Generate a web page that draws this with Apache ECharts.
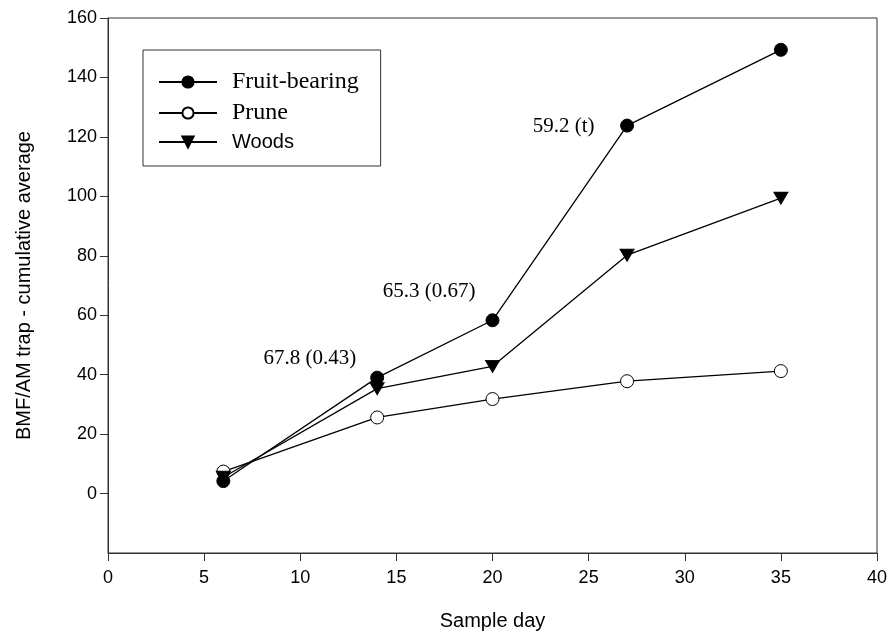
<!DOCTYPE html>
<html>
<head>
<meta charset="utf-8">
<script src="https://cdn.jsdelivr.net/npm/echarts@6/dist/echarts.min.js"></script>
<style>
  html, body { margin: 0; padding: 0; background: #fff; }
  #chart { width: 891px; height: 643px; }
</style>
</head>
<body>
<div id="chart"></div>
<script>
// sample days
const days = [6, 14, 20, 27, 35]
// cumulative averages per site
const fruitBearing = [4.2, 39, 58.3, 123.8, 149.3]
const prune = [7.4, 25.6, 31.8, 37.8, 41.2]
const woods = [5.5, 35.3, 42.8, 80.2, 99.4]
// annotations (x, y in data units)
const noteX = [10.5, 16.7, 23.7]
const noteY = [45.4, 67.9, 123.4]
const noteText = ['67.8 (0.43)', '65.3 (0.67)', '59.2 (t)']
const yTicks = [0, 20, 40, 60, 80, 100, 120, 140, 160]

function pairs(ys) {
  return days.map((d, i) => [d, ys[i]])
}

let chart = echarts.init(document.getElementById('chart'))
let option = {
  animation: false,
  grid: {
    left: 108,
    right: 14,
    top: 18,
    bottom: 90,
    show: true,
    borderColor: '#333',
    borderWidth: 1,
  },
  legend: {
    orient: 'vertical',
    left: 143,
    top: 50,
    padding: [20, 22, 14, 15],
    itemGap: 7,
    itemWidth: 58,
    itemHeight: 14,
    borderColor: '#333',
    borderWidth: 1,
    backgroundColor: '#fff',
    data: [
      { name: 'Fruit-bearing', textStyle: { fontFamily: 'Liberation Serif', fontSize: 24 } },
      { name: 'Prune', textStyle: { fontFamily: 'Liberation Serif', fontSize: 24 } },
      { name: 'Woods', textStyle: { fontFamily: 'Liberation Sans', fontSize: 20 } },
    ],
    textStyle: { color: '#000', padding: [0, 0, 0, 10] },
  },
  xAxis: {
    type: 'value',
    min: 0,
    max: 40,
    interval: 5,
    name: 'Sample day',
    nameLocation: 'middle',
    nameGap: 58,
    nameTextStyle: { fontFamily: 'Liberation Sans', fontSize: 20, color: '#000' },
    axisLine: { onZero: false, lineStyle: { color: '#333' } },
    axisTick: { show: true, inside: false, length: 8, lineStyle: { color: '#333' } },
    axisLabel: { fontFamily: 'Liberation Sans', fontSize: 18, color: '#000', margin: 16 },
    splitLine: { show: false },
  },
  yAxis: {
    type: 'value',
    min: -20,
    max: 160,
    interval: 20,
    name: 'BMF/AM trap - cumulative average',
    nameLocation: 'middle',
    nameGap: 74,
    nameTextStyle: { fontFamily: 'Liberation Sans', fontSize: 20, color: '#000' },
    axisLine: { show: true, onZero: false, lineStyle: { color: '#333' } },
    axisTick: { show: true, inside: false, length: 8, customValues: yTicks, lineStyle: { color: '#333' } },
    axisLabel: {
      fontFamily: 'Liberation Sans', fontSize: 18, color: '#000', margin: 11,
      customValues: yTicks,
    },
    splitLine: { show: false },
  },
  series: [
    {
      name: 'Fruit-bearing',
      type: 'line',
      data: pairs(fruitBearing),
      symbol: 'circle',
      symbolSize: 13,
      lineStyle: { color: '#000', width: 1.3 },
      itemStyle: { color: '#000', borderColor: '#000', borderWidth: 1 },
      markPoint: {
        symbol: 'circle',
        symbolSize: 0,
        label: {
          show: true,
          position: 'inside',
          formatter: (p) => p.name,
          fontFamily: 'Liberation Serif',
          fontSize: 21,
          color: '#000',
        },
        data: noteText.map((t, i) => ({ name: t, coord: [noteX[i], noteY[i]] })),
      },
      z: 4,
    },
    {
      name: 'Prune',
      type: 'line',
      data: pairs(prune),
      symbol: 'circle',
      symbolSize: 13,
      lineStyle: { color: '#000', width: 1.3 },
      itemStyle: { color: '#fff', borderColor: '#000', borderWidth: 1 },
      z: 3,
    },
    {
      name: 'Woods',
      type: 'line',
      data: pairs(woods),
      symbol: 'triangle',
      symbolRotate: 180,
      symbolSize: [14, 12],
      lineStyle: { color: '#000', width: 1.3 },
      itemStyle: { color: '#000', borderColor: '#000', borderWidth: 1 },
      z: 3,
    },
  ],
}
chart.setOption(option)
</script>
</body>
</html>
